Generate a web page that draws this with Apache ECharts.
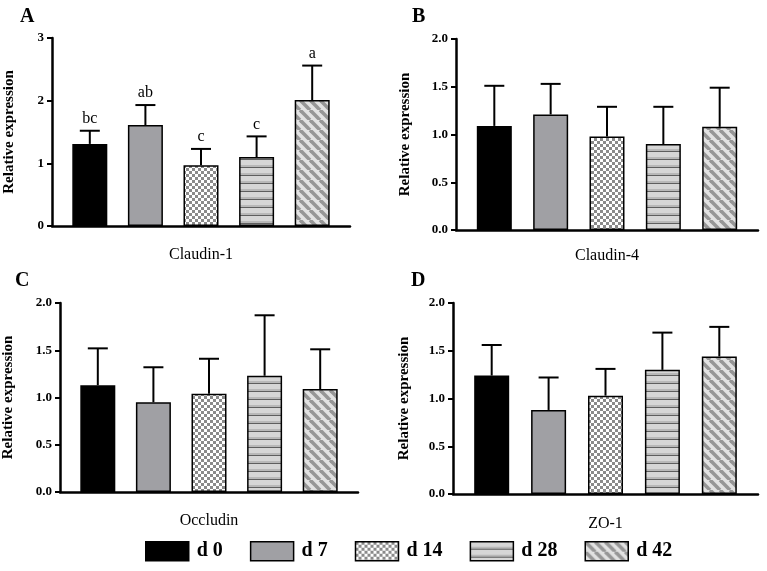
<!DOCTYPE html>
<html>
<head>
<meta charset="utf-8">
<script src="https://cdn.jsdelivr.net/npm/echarts@6/dist/echarts.min.js"></script>
<style>
html,body{margin:0;padding:0;background:#fff;}
#main{width:767px;height:571px;}
</style>
</head>
<body>
<div id="main"></div>
<script>
// ---- data ----
const groups = ['d 0', 'd 7', 'd 14', 'd 28', 'd 42'];
const groupX = [1, 2, 3, 4, 5];
const panelLetters = ['A', 'B', 'C', 'D'];
const genes = ['Claudin-1', 'Claudin-4', 'Occludin', 'ZO-1'];
const claudin1Mean = [1.31, 1.61, 0.97, 1.10, 2.01];
const claudin1Sem  = [0.21, 0.32, 0.26, 0.33, 0.55];
const claudin4Mean = [1.09, 1.21, 0.98, 0.90, 1.08];
const claudin4Sem  = [0.42, 0.32, 0.31, 0.39, 0.41];
const occludinMean = [1.13, 0.95, 1.04, 1.23, 1.09];
const occludinSem  = [0.39, 0.37, 0.37, 0.64, 0.42];
const zo1Mean      = [1.24, 0.88, 1.03, 1.30, 1.44];
const zo1Sem       = [0.32, 0.34, 0.28, 0.39, 0.31];
const claudin1Letters = ['bc', 'ab', 'c', 'c', 'a'];
const yMaxes = [3, 2, 2, 2];
const yIntervals = [1, 0.5, 0.5, 0.5];

const means = [claudin1Mean, claudin4Mean, occludinMean, zo1Mean];
const sems = [claudin1Sem, claudin4Sem, occludinSem, zo1Sem];
const letters = [claudin1Letters, null, null, null];

// ---- patterns ----
function mk(w, h, draw) {
  const c = document.createElement('canvas');
  c.width = w; c.height = h;
  draw(c.getContext('2d'), w, h);
  return c;
}
const checker = mk(6, 6, (g) => {
  g.fillStyle = '#ffffff'; g.fillRect(0, 0, 6, 6);
  g.fillStyle = '#8a8a8a'; g.fillRect(0, 0, 3, 3); g.fillRect(3, 3, 3, 3);
});
const hstripe = mk(8, 8, (g) => {
  g.fillStyle = '#d6d6d6'; g.fillRect(0, 0, 8, 8);
  g.fillStyle = '#b8b8b8'; g.fillRect(0, 5, 8, 2);
  g.fillStyle = '#5e5e5e'; g.fillRect(0, 7, 8, 1);
});
const dstripe = mk(10, 10, (g) => {
  g.fillStyle = '#e2e2e2'; g.fillRect(0, 0, 10, 10);
  g.strokeStyle = '#969696'; g.lineWidth = 3.6;
  for (let k = -2; k <= 2; k++) {
    g.beginPath(); g.moveTo(k * 10, 0); g.lineTo(k * 10 + 10, 10); g.stroke();
  }
});
const fills = [
  '#000000',
  '#a0a0a4',
  { image: checker, repeat: 'repeat' },
  { image: hstripe, repeat: 'repeat' },
  { image: dstripe, repeat: 'repeat' }
];

// ---- layout ----
const grids = [
  { left: 52, top: 38, width: 298, height: 188 },
  { left: 456, top: 39, width: 302, height: 191 },
  { left: 57, top: 303, width: 301, height: 189 },
  { left: 453, top: 303, width: 305, height: 191 }
];
const letterPos = [[15, 2], [407, 2], [10, 266], [406, 266]];
const yNameGaps = [35, 43, 44, 41];
const xNameGaps = [21, 18, 21, 22];

const FONT = 'Liberation Serif';
const xAxes = [], yAxes = [], series = [], titles = [];
for (let p = 0; p < 4; p++) {
  xAxes.push({
    gridIndex: p, type: 'value', min: 0.32, max: 5.68,
    axisLine: { show: true, onZero: false, lineStyle: { color: '#000', width: 2.5 } },
    axisTick: { show: false }, axisLabel: { show: false }, splitLine: { show: false },
    name: genes[p], nameLocation: 'middle', nameGap: xNameGaps[p],
    nameTextStyle: { fontFamily: FONT, fontSize: 16, color: '#000' }
  });
  yAxes.push({
    gridIndex: p, type: 'value', min: 0, max: yMaxes[p], interval: yIntervals[p],
    axisLine: { show: true, lineStyle: { color: '#000', width: 2.5 } },
    axisTick: { show: true, length: 5, lineStyle: { color: '#000', width: 2 } },
    axisLabel: {
      margin: 8, fontFamily: FONT, fontWeight: 'bold', fontSize: 13, color: '#000',
      formatter: (v) => (yIntervals[p] < 1 ? v.toFixed(1) : String(v))
    },
    splitLine: { show: false },
    name: 'Relative expression', nameLocation: 'middle', nameGap: yNameGaps[p],
    nameTextStyle: { fontFamily: FONT, fontWeight: 'bold', fontSize: 15, color: '#000' }
  });
  titles.push({
    text: panelLetters[p], left: letterPos[p][0], top: letterPos[p][1],
    textStyle: { fontFamily: FONT, fontWeight: 'bold', fontSize: 20, color: '#000' }
  });
  for (let i = 0; i < 5; i++) {
    series.push({
      type: 'bar', name: groups[i], xAxisIndex: p, yAxisIndex: p,
      barWidth: 35, barGap: '-100%',
      itemStyle: { color: fills[i], borderColor: '#000', borderWidth: 1.5 },
      data: [[groupX[i], means[p][i]]],
      z: 2
    });
  }
  const errData = groupX.map((x, i) => [x, means[p][i], means[p][i] + sems[p][i]]);
  const lt = letters[p];
  series.push({
    type: 'custom', xAxisIndex: p, yAxisIndex: p, z: 3,
    encode: { x: 0, y: [1, 2] },
    data: errData,
    renderItem: function (params, api) {
      const x = api.value(0), m = api.value(1), u = api.value(2);
      const a = api.coord([x, m]), b = api.coord([x, u]);
      const st = { stroke: '#000', lineWidth: 2 };
      const children = [
        { type: 'line', shape: { x1: a[0], y1: a[1], x2: b[0], y2: b[1] }, style: st },
        { type: 'line', shape: { x1: b[0] - 10, y1: b[1], x2: b[0] + 10, y2: b[1] }, style: st }
      ];
      if (lt) {
        children.push({
          type: 'text', x: b[0], y: b[1] - 4,
          style: { text: lt[params.dataIndex], textAlign: 'center', textVerticalAlign: 'bottom',
                   font: '16px "' + FONT + '"', fill: '#000' }
        });
      }
      return { type: 'group', children: children };
    }
  });
}

const chart = echarts.init(document.getElementById('main'), null, { renderer: 'canvas' });
chart.setOption({
  backgroundColor: '#fff',
  animation: false,
  textStyle: { fontFamily: FONT },
  title: titles,
  grid: grids,
  xAxis: xAxes,
  yAxis: yAxes,
  legend: {
    data: groups, left: 145, top: 541, padding: 0, icon: 'rect',
    itemWidth: 43, itemHeight: 19, itemGap: 27,
    itemStyle: { borderColor: '#000', borderWidth: 1.5 },
    textStyle: { fontFamily: FONT, fontWeight: 'bold', fontSize: 20, color: '#000', padding: [0, 0, 0, 3] },
    selectedMode: false
  },
  series: series
});
</script>
</body>
</html>
